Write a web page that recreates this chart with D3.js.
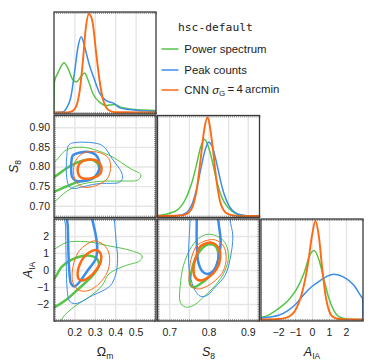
<!DOCTYPE html>
<html>
<head>
<meta charset="utf-8">
<script src="https://cdn.jsdelivr.net/npm/d3@7"></script>
<style>
  body { margin: 0; background: #fff; }
  text { font-family: "Liberation Sans", Arial, sans-serif; fill: #222; }
</style>
</head>
<body>
<svg id="chart" width="383" height="362"></svg>
<script>
// ---- tick / grid values ----
const omTicks = [0.2, 0.3, 0.4, 0.5];
const s8TicksX = [0.7, 0.8, 0.9];
const s8TicksY = [0.70, 0.75, 0.80, 0.85, 0.90];
const aTicks = [-2, -1, 0, 1, 2];
const omGrid = [0.2, 0.3, 0.4, 0.5];
const s8Grid = [0.70, 0.75, 0.80, 0.85, 0.90];
const aGrid = [-2, -1, 0, 1, 2];

const seriesNames = ["Power spectrum", "Peak counts", "CNN"];
const seriesColors = ["#55c447", "#3b8de9", "#ff6912"];

// ---- 1D marginals (value, relative density) ----
const omPower = [[0.1,0],[0.102,0.31],[0.121,0.41],[0.149,0.505],[0.169,0.445],[0.19,0.34],[0.21,0.31],[0.234,0.37],[0.25,0.4],[0.267,0.33],[0.291,0.19],[0.323,0.105],[0.356,0.07],[0.396,0.08],[0.436,0.048],[0.485,0.034],[0.6,0.02]];
const omPeak = [[0.1,0],[0.137,0.002],[0.16,0.04],[0.183,0.16],[0.202,0.43],[0.218,0.67],[0.234,0.77],[0.25,0.67],[0.271,0.5],[0.299,0.33],[0.323,0.2],[0.356,0.12],[0.396,0.09],[0.42,0.05],[0.469,0.03],[0.6,0.01]];
const omCnn = [[0.1,0],[0.16,0],[0.19,0.015],[0.207,0.054],[0.226,0.22],[0.242,0.53],[0.255,0.84],[0.271,1.0],[0.287,0.94],[0.307,0.6],[0.323,0.33],[0.342,0.12],[0.371,0.02],[0.4,0.003],[0.6,0]];

const s8Power = [[0.67,0.005],[0.69,0.015],[0.71,0.04],[0.72,0.06],[0.73,0.10],[0.74,0.16],[0.75,0.25],[0.76,0.37],[0.77,0.53],[0.78,0.70],[0.79,0.78],[0.80,0.70],[0.81,0.55],[0.82,0.37],[0.83,0.23],[0.84,0.14],[0.85,0.085],[0.86,0.05],[0.87,0.025],[0.89,0.006],[0.91,0.001],[0.93,0]];
const s8Peak = [[0.67,0],[0.70,0],[0.72,0.004],[0.73,0.01],[0.74,0.024],[0.75,0.06],[0.76,0.14],[0.77,0.28],[0.78,0.47],[0.79,0.65],[0.80,0.75],[0.81,0.70],[0.82,0.55],[0.83,0.37],[0.84,0.22],[0.85,0.12],[0.86,0.06],[0.87,0.03],[0.88,0.012],[0.89,0.005],[0.91,0.001],[0.93,0]];
const s8Cnn = [[0.67,0],[0.72,0.002],[0.73,0.006],[0.74,0.015],[0.75,0.035],[0.76,0.10],[0.77,0.27],[0.78,0.58],[0.79,0.90],[0.797,1.0],[0.80,0.98],[0.81,0.72],[0.82,0.37],[0.83,0.14],[0.84,0.05],[0.85,0.02],[0.86,0.008],[0.87,0.003],[0.89,0],[0.93,0]];

const aPower = [[-3,0.02],[-2.5,0.05],[-2,0.107],[-1.42,0.19],[-0.93,0.30],[-0.45,0.48],[-0.16,0.64],[0.13,0.70],[0.42,0.60],[0.71,0.40],[1.0,0.21],[1.29,0.09],[1.68,0.02],[2.2,0.002],[3,0]];
const aPeak = [[-3,0.015],[-2.5,0.025],[-2,0.04],[-1.42,0.09],[-0.93,0.16],[-0.45,0.26],[0.03,0.34],[0.52,0.40],[0.9,0.44],[1.29,0.46],[1.87,0.43],[2.45,0.35],[2.87,0.24],[2.98,0.21],[3.0,0]];
const aCnn = [[-3,0],[-2,0.005],[-1.5,0.02],[-1,0.09],[-0.75,0.18],[-0.5,0.33],[-0.25,0.55],[0,0.85],[0.2,1.0],[0.4,0.85],[0.6,0.52],[0.8,0.24],[1.0,0.09],[1.2,0.03],[1.5,0.008],[2,0.001],[3,0]];

// ---- 2D contours (68% thick, 95% thin) ----
const omS8Power68 = [[0.064,0.774],[0.099,0.774],[0.160,0.795],[0.224,0.812],[0.288,0.817],[0.320,0.800],[0.312,0.779],[0.272,0.766],[0.224,0.762],[0.160,0.749],[0.099,0.736],[0.064,0.732]];
const omS8Power95 = [[0.064,0.820],[0.099,0.812],[0.160,0.842],[0.240,0.849],[0.369,0.829],[0.473,0.795],[0.526,0.779],[0.513,0.766],[0.433,0.763],[0.320,0.762],[0.224,0.753],[0.160,0.736],[0.104,0.711],[0.064,0.698]];
const omS8Peak68 = [[0.192,0.828],[0.224,0.835],[0.272,0.837],[0.304,0.830],[0.320,0.816],[0.324,0.799],[0.312,0.782],[0.288,0.769],[0.248,0.763],[0.208,0.763],[0.189,0.773],[0.184,0.799],[0.186,0.816]];
const omS8Peak95 = [[0.163,0.828],[0.171,0.854],[0.192,0.860],[0.240,0.862],[0.296,0.860],[0.336,0.854],[0.365,0.837],[0.385,0.820],[0.409,0.803],[0.430,0.786],[0.436,0.769],[0.417,0.759],[0.377,0.757],[0.336,0.757],[0.288,0.754],[0.240,0.748],[0.200,0.744],[0.176,0.748],[0.163,0.769],[0.160,0.799]];
const omS8Cnn68 = [[0.232,0.811],[0.264,0.817],[0.304,0.816],[0.328,0.805],[0.333,0.790],[0.320,0.778],[0.288,0.771],[0.248,0.769],[0.224,0.776],[0.216,0.790],[0.221,0.803]];
const omS8Cnn95 = [[0.248,0.835],[0.288,0.838],[0.336,0.833],[0.369,0.820],[0.377,0.795],[0.361,0.769],[0.304,0.751],[0.240,0.748],[0.205,0.765],[0.195,0.790],[0.212,0.820]];

const omAPower68 = [[0.064,-0.62],[0.099,-0.52],[0.136,0.16],[0.176,0.54],[0.224,0.78],[0.280,0.83],[0.312,0.64],[0.320,0.25],[0.296,-0.23],[0.256,-0.72],[0.208,-1.24],[0.160,-1.75],[0.099,-2.21],[0.064,-2.37]];
const omAPower95 = [[0.064,1.13],[0.099,1.22],[0.160,1.61],[0.256,1.67],[0.369,1.42],[0.481,1.13],[0.532,0.83],[0.521,0.54],[0.449,0.25],[0.369,-0.23],[0.336,-0.91],[0.272,-1.59],[0.208,-2.08],[0.152,-2.66],[0.120,-3.15],[0.064,-3.34]];
const omAPeak68 = [[0.168,3.46],[0.168,2.49],[0.171,0.93],[0.176,-0.23],[0.184,-0.82],[0.200,-0.97],[0.224,-0.72],[0.264,-0.04],[0.304,0.64],[0.312,1.32],[0.304,2.10],[0.288,2.97],[0.285,3.46]];
const omAPeak95 = [[0.157,3.46],[0.157,2.49],[0.160,0.35],[0.165,-1.20],[0.176,-1.83],[0.200,-1.98],[0.232,-1.88],[0.288,-1.50],[0.336,-1.24],[0.377,-0.91],[0.401,-0.33],[0.412,0.64],[0.405,1.61],[0.396,2.97],[0.393,3.46]];
const omACnn68 = [[0.272,1.03],[0.304,1.17],[0.328,0.97],[0.328,0.45],[0.304,-0.04],[0.272,-0.43],[0.240,-0.62],[0.221,-0.53],[0.216,-0.14],[0.227,0.35],[0.248,0.78]];
const omACnn95 = [[0.256,1.48],[0.296,1.71],[0.336,1.55],[0.365,1.13],[0.373,0.54],[0.361,-0.14],[0.320,-0.82],[0.272,-1.20],[0.224,-1.20],[0.195,-0.82],[0.189,-0.23],[0.200,0.54],[0.224,1.13]];

const s8APower68 = [[0.800,1.51],[0.817,1.42],[0.825,0.93],[0.821,0.25],[0.804,-0.33],[0.779,-0.82],[0.762,-1.01],[0.753,-0.82],[0.755,-0.24],[0.766,0.64],[0.783,1.26]];
const s8APower95 = [[0.796,2.10],[0.821,2.0],[0.842,1.61],[0.851,0.83],[0.842,-0.04],[0.817,-0.92],[0.787,-1.60],[0.762,-2.08],[0.741,-2.18],[0.728,-1.89],[0.728,-0.92],[0.736,0.25],[0.753,1.22],[0.774,1.84]];
const s8APeak68 = [[0.770,3.75],[0.770,2.97],[0.770,1.61],[0.774,0.45],[0.783,-0.04],[0.796,-0.24],[0.813,-0.04],[0.825,0.64],[0.831,1.61],[0.825,2.97],[0.825,3.75]];
const s8APeak95 = [[0.753,3.75],[0.753,2.97],[0.749,0.64],[0.753,-0.33],[0.766,-1.21],[0.779,-1.54],[0.796,-1.50],[0.817,-1.01],[0.842,-0.33],[0.855,0.64],[0.862,2.0],[0.855,2.97],[0.855,3.75]];
const s8ACnn68 = [[0.787,1.51],[0.808,1.61],[0.825,1.32],[0.830,0.74],[0.821,0.06],[0.800,-0.43],[0.779,-0.62],[0.766,-0.43],[0.762,0.15],[0.769,0.83],[0.777,1.32]];
const s8ACnn95 = [[0.791,1.71],[0.817,1.77],[0.838,1.42],[0.845,0.74],[0.838,-0.04],[0.817,-0.62],[0.791,-1.01],[0.770,-1.11],[0.753,-0.82],[0.751,-0.04],[0.758,0.83],[0.770,1.42]];

// ---- layout ----
const size = 102, step = 103.5, leftX = 54, topY = 12;
const colX = i => leftX + i * step;
const rowY = i => topY + i * step;

const svg = d3.select("#chart");
const defs = svg.append("defs");

const xOm = d3.scaleLinear().domain([0.1, 0.6]).range([colX(0), colX(0) + size]);
const xS8 = d3.scaleLinear().domain([0.67, 0.93]).range([colX(1), colX(1) + size]);
const xA = d3.scaleLinear().domain([-3, 3]).range([colX(2), colX(2) + size]);
const yS8 = d3.scaleLinear().domain([0.67, 0.93]).range([rowY(1) + size, rowY(1)]);
const yA = d3.scaleLinear().domain([-3, 3]).range([rowY(2) + size, rowY(2)]);
const yDen = r => d3.scaleLinear().domain([0, 1]).range([rowY(r) + size - 1.5, rowY(r) + 2]);

const minor = { om: d3.range(0.1, 0.6001, 0.01), s8: d3.range(0.67, 0.9301, 0.005), a: d3.range(-3, 3.001, 0.1) };

function clipFor(id, c, r) {
  defs.append("clipPath").attr("id", id)
    .append("rect").attr("x", colX(c)).attr("y", rowY(r)).attr("width", size).attr("height", size);
  return `url(#${id})`;
}

function grid(g, c, r, sx, xg, sy, yg) {
  g.append("g").attr("transform", `translate(0,${rowY(r) + size})`)
    .call(d3.axisBottom(sx).tickValues(xg).tickSize(-size).tickFormat(""))
    .call(a => a.select(".domain").remove())
    .selectAll("line").attr("stroke", "#e6e6e6").attr("stroke-width", 1.4);
  if (sy) {
    g.append("g").attr("transform", `translate(${colX(c)},0)`)
      .call(d3.axisLeft(sy).tickValues(yg).tickSize(-size).tickFormat(""))
      .call(a => a.select(".domain").remove())
      .selectAll("line").attr("stroke", "#e6e6e6").attr("stroke-width", 1.4);
  }
}

function frame(g, c, r, sx, mx, sy, my) {
  const x0 = colX(c), y0 = rowY(r);
  const tick = (axis, tr) => g.append("g").attr("transform", tr)
    .call(axis.tickSize(2).tickFormat(""))
    .call(a => a.select(".domain").remove())
    .selectAll("line").attr("stroke", "#555").attr("stroke-width", 0.6);
  tick(d3.axisTop(sx).tickValues(mx), `translate(0,${y0 + size})`);
  tick(d3.axisBottom(sx).tickValues(mx), `translate(0,${y0})`);
  tick(d3.axisRight(sy).tickValues(my), `translate(${x0},0)`);
  tick(d3.axisLeft(sy).tickValues(my), `translate(${x0 + size},0)`);
  g.append("rect").attr("x", x0).attr("y", y0).attr("width", size).attr("height", size)
    .attr("fill", "none").attr("stroke", "#3a3a3a").attr("stroke-width", 1.3);
}

// ---- diagonal panels ----
const diag = [
  { c: 0, sx: xOm, xg: omGrid, mx: minor.om, data: [omPower, omPeak, omCnn] },
  { c: 1, sx: xS8, xg: s8Grid, mx: minor.s8, data: [s8Power, s8Peak, s8Cnn] },
  { c: 2, sx: xA, xg: aGrid, mx: minor.a, data: [aPower, aPeak, aCnn] }
];
diag.forEach(p => {
  const g = svg.append("g");
  const sy = yDen(p.c);
  grid(g, p.c, p.c, p.sx, p.xg);
  const line = d3.line().x(d => p.sx(d[0])).y(d => sy(d[1])).curve(d3.curveMonotoneX);
  const body = g.append("g").attr("clip-path", clipFor("clipd" + p.c, p.c, p.c));
  p.data.forEach((d, i) => {
    body.append("path").attr("d", line(d)).attr("fill", "none")
      .attr("stroke", seriesColors[i]).attr("stroke-width", i === 2 ? 1.9 : 1.5);
  });
  frame(g, p.c, p.c, p.sx, p.mx, sy, []);
});

// ---- 2D panels ----
const offDiag = [
  { c: 0, r: 1, sx: xOm, sy: yS8, xg: omGrid, yg: s8Grid, mx: minor.om, my: minor.s8,
    sets: [[omS8Power95, omS8Power68], [omS8Peak95, omS8Peak68], [omS8Cnn95, omS8Cnn68]] },
  { c: 0, r: 2, sx: xOm, sy: yA, xg: omGrid, yg: aGrid, mx: minor.om, my: minor.a,
    sets: [[omAPower95, omAPower68], [omAPeak95, omAPeak68], [omACnn95, omACnn68]] },
  { c: 1, r: 2, sx: xS8, sy: yA, xg: s8Grid, yg: aGrid, mx: minor.s8, my: minor.a,
    sets: [[s8APower95, s8APower68], [s8APeak95, s8APeak68], [s8ACnn95, s8ACnn68]] }
];
offDiag.forEach(p => {
  const g = svg.append("g");
  grid(g, p.c, p.r, p.sx, p.xg, p.sy, p.yg);
  const line = d3.line().x(d => p.sx(d[0])).y(d => p.sy(d[1])).curve(d3.curveCatmullRomClosed.alpha(0.5));
  const body = g.append("g").attr("clip-path", clipFor(`clip${p.c}${p.r}`, p.c, p.r));
  p.sets.forEach((pair, i) => {
    body.append("path").attr("d", line(pair[0])).attr("fill", "none")
      .attr("stroke", seriesColors[i]).attr("stroke-width", 1);
    body.append("path").attr("d", line(pair[1])).attr("fill", "none")
      .attr("stroke", seriesColors[i]).attr("stroke-width", 2.5);
  });
  frame(g, p.c, p.r, p.sx, p.mx, p.sy, p.my);
});

// ---- tick labels ----
function labelAxis(axis, tr) {
  svg.append("g").attr("transform", tr)
    .call(axis)
    .call(a => a.select(".domain").remove())
    .call(a => a.selectAll("line").remove())
    .selectAll("text").style("font-family", '"Liberation Sans", Arial, sans-serif')
    .style("font-size", "10.5px").attr("fill", "#222");
}
const bottomY = rowY(2) + size;
labelAxis(d3.axisBottom(xOm).tickValues(omTicks).tickSize(0).tickPadding(8).tickFormat(d3.format(".1f")), `translate(0,${bottomY})`);
labelAxis(d3.axisBottom(xS8).tickValues(s8TicksX).tickSize(0).tickPadding(8).tickFormat(d3.format(".1f")), `translate(0,${bottomY})`);
labelAxis(d3.axisBottom(xA).tickValues(aTicks).tickSize(0).tickPadding(8).tickFormat(d3.format("d")), `translate(0,${bottomY})`);
labelAxis(d3.axisLeft(yS8).tickValues(s8TicksY).tickSize(0).tickPadding(4).tickFormat(d3.format(".2f")), `translate(${leftX},0)`);
labelAxis(d3.axisLeft(yA).tickValues(aTicks).tickSize(0).tickPadding(5).tickFormat(d3.format("d")), `translate(${leftX},0)`);

// ---- axis titles ----
function mathLabel(tr, main, sub, italic) {
  const t = svg.append("text").attr("transform", tr).attr("text-anchor", "middle")
    .style("font-size", "12.5px");
  t.append("tspan").text(main).style("font-style", italic ? "italic" : "normal");
  t.append("tspan").text(sub).attr("dy", "0.3em").style("font-size", "8.5px");
  return t;
}
const labY = 356;
mathLabel(`translate(${colX(0) + size / 2},${labY})`, "Ω", "m", false);
mathLabel(`translate(${colX(1) + size / 2},${labY})`, "S", "8", true);
mathLabel(`translate(${colX(2) + size / 2},${labY})`, "A", "IA", true);
mathLabel(`translate(18,${rowY(1) + size / 2}) rotate(-90)`, "S", "8", true);
mathLabel(`translate(32,${rowY(2) + size / 2}) rotate(-90)`, "A", "IA", true);

// ---- legend ----
const leg = svg.append("g");
leg.append("text").attr("x", 178).attr("y", 31).text("hsc-default")
  .style("font-family", '"DejaVu Sans Mono", monospace').style("font-size", "11.3px");
const legY = [49, 70, 90];
seriesNames.forEach((name, i) => {
  leg.append("line").attr("x1", 161.5).attr("x2", 178.5).attr("y1", legY[i]).attr("y2", legY[i])
    .attr("stroke", seriesColors[i]).attr("stroke-width", 1.5);
  const t = leg.append("text").attr("x", 184.3).attr("y", legY[i] + 4).style("font-size", "11.4px");
  if (i < 2) {
    t.text(name);
  } else {
    t.append("tspan").text(name + " ");
    t.append("tspan").text("σ").style("font-style", "italic");
    t.append("tspan").text("G").attr("dy", "0.3em").style("font-size", "8px");
    t.append("tspan").text("\u2009=\u20094\u2009arcmin").attr("dy", "-0.3em");
  }
});
</script>
</body>
</html>
